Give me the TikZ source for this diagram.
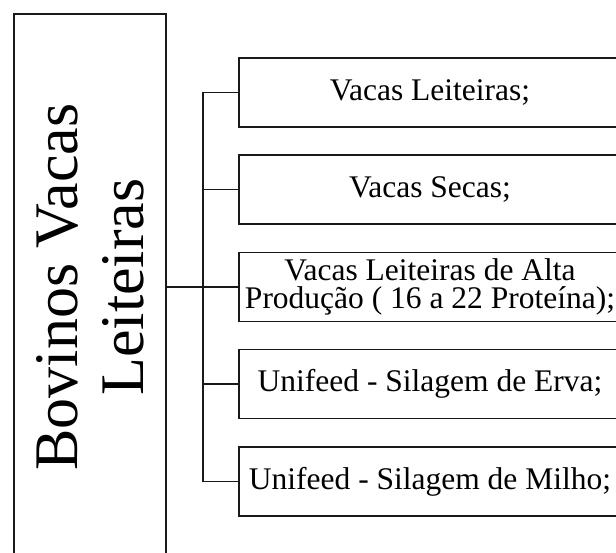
\documentclass[tikz,border=0pt]{standalone}
\usepackage{fontspec}
\setmainfont{Liberation Serif}
\usetikzlibrary{positioning}

\begin{document}
\begin{tikzpicture}[x=1pt, y=-1pt, line width=1.3pt,
    every node/.style={draw=black!90, inner sep=0pt},
    leaf/.style={minimum width=382, minimum height=69, align=center,
      font=\fontsize{31.5}{28.5}\selectfont},
    root/.style={minimum width=546, minimum height=152, rotate=90, align=center,
      font=\fontsize{62}{66}\selectfont}]
  \clip (0,0) rectangle (616,552);
  \useasboundingbox (0,0) rectangle (616,552);

  % Categoria
  \node[root] (bovinos) at (90,287) {Bovinos Vacas\\Leiteiras};

  % Grupos
  \node[leaf] (leiteiras) at (430,92.5) {Vacas Leiteiras;};
  \node[leaf] (secas) at (430,189.5) {Vacas Secas;};
  \node[leaf] (alta) at (430,287) {Vacas Leiteiras de Alta\\Produção ( 16 a 22 Proteína);};
  \node[leaf] (erva) at (430,384) {Unifeed - Silagem de Erva;};
  \node[leaf] (milho) at (430,481.5) {Unifeed - Silagem de Milho;};

  \coordinate (fork) at (203,287);
  \draw[line width=1.8pt, black!90] (bovinos.south) -- (fork);
  \draw[black!90] (leiteiras.west) -| (fork) |- (milho.west);
  \draw[black!90] (fork |- secas.west) -- (secas.west);
  \draw[black!90] (fork) -- (alta.west);
  \draw[black!90] (fork |- erva.west) -- (erva.west);
\end{tikzpicture}
\end{document}
